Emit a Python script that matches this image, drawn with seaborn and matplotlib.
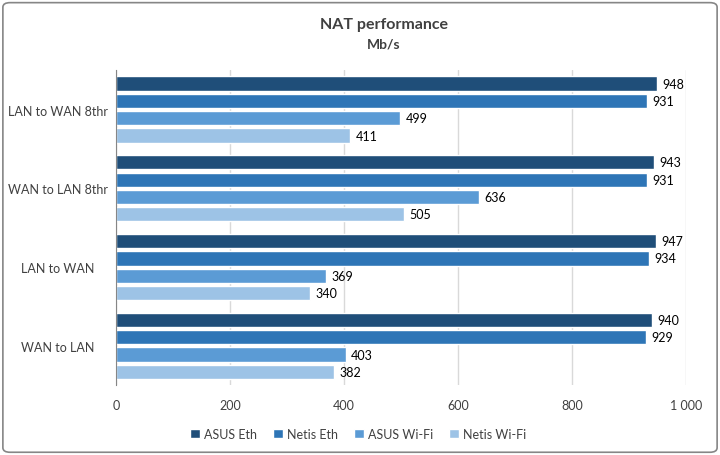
import numpy as np
import pandas as pd
import matplotlib
matplotlib.use("Agg")
import matplotlib.pyplot as plt
from matplotlib.patches import FancyBboxPatch
from matplotlib.ticker import FuncFormatter
import seaborn as sns

# data
categories = ["LAN to WAN 8thr", "WAN to LAN 8thr", "LAN to WAN", "WAN to LAN"]
series = ["ASUS Eth", "Netis Eth", "ASUS Wi-Fi", "Netis Wi-Fi"]
asus_eth = [948, 943, 947, 940]
netis_eth = [931, 931, 934, 929]
asus_wifi = [499, 636, 369, 403]
netis_wifi = [411, 505, 340, 382]

colors = ["#1F4E79", "#2E75B6", "#5B9BD5", "#9DC3E6"]

rows = []
for s, vals in zip(series, [asus_eth, netis_eth, asus_wifi, netis_wifi]):
    for c, v in zip(categories, vals):
        rows.append({"test": c, "router": s, "speed": v})
df = pd.DataFrame(rows)

sns.set_style("white")
plt.rcParams['font.family'] = ['Lato', 'DejaVu Sans']
txt = "#404040"

fig = plt.figure(figsize=(7.2, 4.56), dpi=100)
ax = fig.add_axes([0.161, 0.153, 0.792, 0.691])

sns.barplot(data=df, x="speed", y="test", hue="router", order=categories,
            hue_order=series, palette=colors, orient="h", width=0.88, gap=0.18,
            saturation=1, ax=ax, legend=True)

for cont in ax.containers:
    ax.bar_label(cont, fmt="%d", padding=4, fontsize=9, color="black")

ax.set_xlim(0, 1000)
ax.set_xticks(np.arange(0, 1001, 200))
ax.xaxis.set_major_formatter(FuncFormatter(lambda v, p: f"{int(v):,}".replace(",", " ")))
ax.set_xlabel("")
ax.set_ylabel("")
ax.grid(axis="x", color="#D9D9D9", linewidth=1)
ax.set_axisbelow(True)
for sp in ["top", "right", "bottom"]:
    ax.spines[sp].set_visible(False)
ax.spines["left"].set_color("#868686")
ax.tick_params(axis="y", length=0, pad=42, labelsize=9, labelcolor=txt)
for lab in ax.get_yticklabels():
    lab.set_horizontalalignment("center")
ax.tick_params(axis="x", length=0, pad=10, labelsize=9, labelcolor=txt)

ax.legend(loc="upper center", bbox_to_anchor=(0.425, -0.1), ncol=4, frameon=False,
          fontsize=9, handlelength=0.8, handleheight=0.8, handletextpad=0.3,
          columnspacing=1.3, labelcolor=txt)

fig.text(0.533, 0.945, "NAT performance", ha="center", va="center",
         fontsize=11.5, fontweight="bold", color=txt)
fig.text(0.533, 0.903, "Mb/s", ha="center", va="center",
         fontsize=10, fontweight="bold", color=txt)

border = FancyBboxPatch((0.004, 0.006), 0.992, 0.986, boxstyle="round,pad=0,rounding_size=0.01",
                        transform=fig.transFigure, fill=False, edgecolor="#868686", linewidth=1.2)
fig.patches.append(border)

fig.savefig("out.png", dpi=100)
